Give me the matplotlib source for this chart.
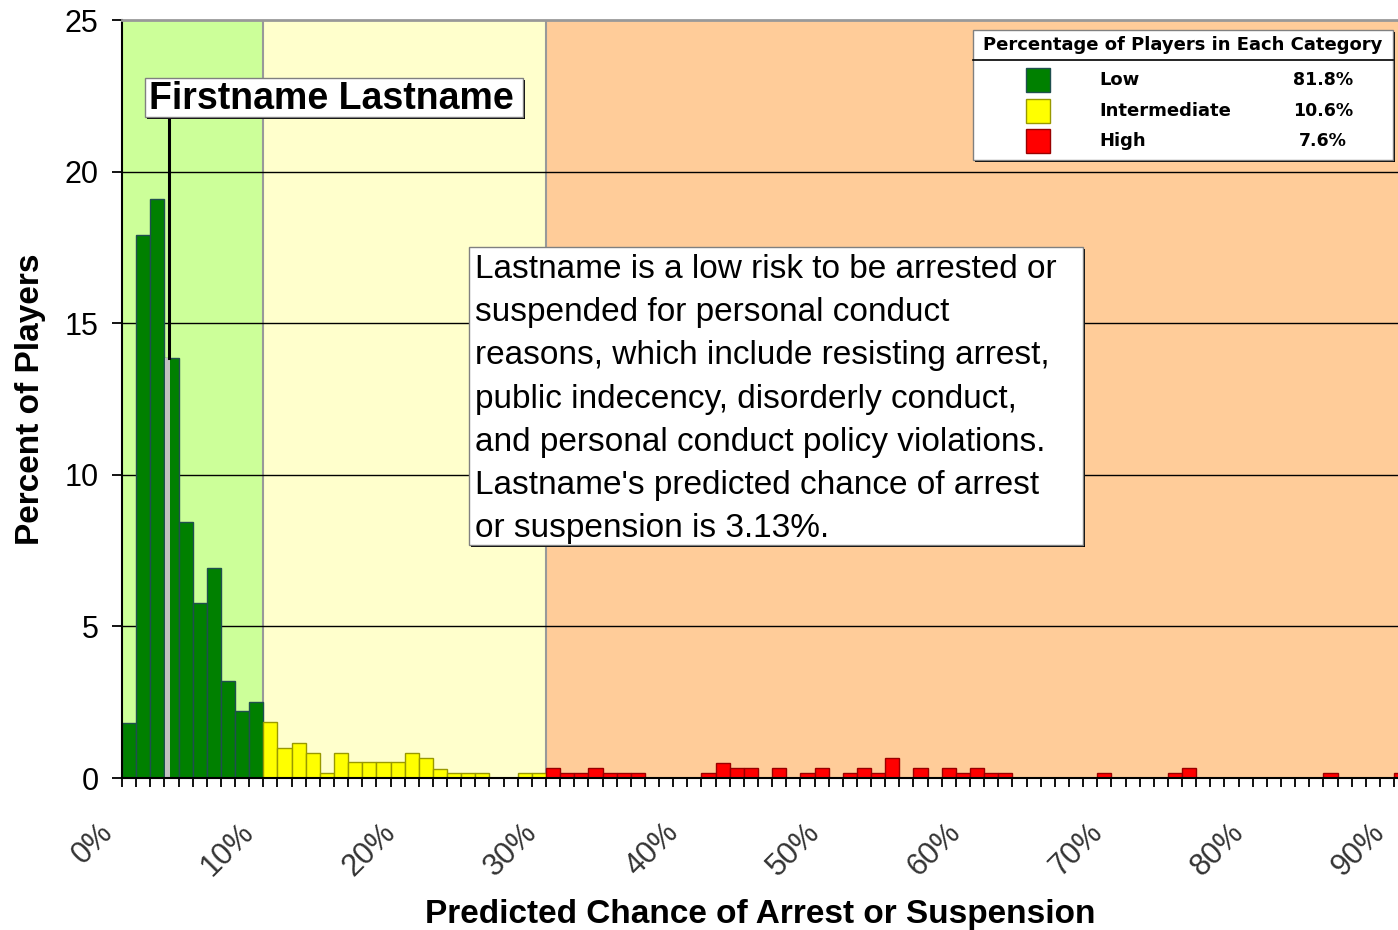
import numpy as np
import matplotlib
matplotlib.use("Agg")
import matplotlib.pyplot as plt
from matplotlib.patches import Rectangle
from matplotlib.lines import Line2D
from matplotlib.transforms import Affine2D, ScaledTranslation
from matplotlib import patheffects

# percent of players in each 1% bin of predicted chance
low_start = 0
low_pct = [1.83, 17.92, 19.10, 13.84, 8.44, 5.76, 6.92, 3.21, 2.21, 2.52]
mid_start = 10
mid_pct = [1.85, 0.99, 1.15, 0.84, 0.15, 0.84, 0.52, 0.52, 0.52, 0.52,
           0.84, 0.67, 0.31, 0.15, 0.15, 0.15, 0, 0, 0.15, 0.15]
high_start = 30
high_pct = [0.33, 0.15, 0.15, 0.33, 0.15, 0.15, 0.15, 0, 0, 0,
            0, 0.15, 0.50, 0.33, 0.33, 0, 0.33, 0, 0.15, 0.33,
            0, 0.15, 0.33, 0.15, 0.67, 0, 0.33, 0, 0.33, 0.15,
            0.33, 0.15, 0.15, 0, 0, 0, 0, 0, 0, 0.15,
            0, 0, 0, 0, 0.15, 0.33, 0, 0, 0, 0,
            0, 0, 0, 0, 0, 0.15, 0, 0, 0, 0,
            0.15]

player_name = "Firstname Lastname"
player_pct = 3.13
note = ("Lastname is a low risk to be arrested or\n"
        "suspended for personal conduct\n"
        "reasons, which include resisting arrest,\n"
        "public indecency, disorderly conduct,\n"
        "and personal conduct policy violations.\n"
        "Lastname's predicted chance of arrest\n"
        "or suspension is 3.13%.")

cat_names = ["Low", "Intermediate", "High"]
cat_share = ["81.8%", "10.6%", "7.6%"]
cat_colors = ["#008000", "#FFFF00", "#FF0000"]
cat_edges = ["#1F4F4F", "#999900", "#990000"]
cat_bg = ["#CCFF99", "#FFFFCC", "#FFCC99"]
cat_edges_x = [0, 10, 30, 100]

x_ticks = list(range(0, 91, 10))
x_ticklabels = [f"{v}%" for v in x_ticks]
y_ticks = [0, 5, 10, 15, 20, 25]

plt.rcParams["font.family"] = "Liberation Sans"

W, H = 1398, 930
fig = plt.figure(figsize=(W / 100, H / 100), dpi=100)
ax = fig.add_axes([122 / W, 152 / H, 1276 / W, 758 / H])
px = Affine2D().scale(1, -1).translate(0, H)  # figure pixels, y down

for i in range(3):
    ax.axvspan(cat_edges_x[i], cat_edges_x[i + 1], color=cat_bg[i], lw=0, zorder=0)
for xv in cat_edges_x[1:3]:
    ax.axvline(xv, color="#999999", lw=1.5, zorder=0.3)
for yv in y_ticks[1:-1]:
    ax.axhline(yv, color="black", lw=1, zorder=0.5)

groups = [(low_start, low_pct), (mid_start, mid_pct), (high_start, high_pct)]
for (start, vals), c, e in zip(groups, cat_colors, cat_edges):
    xs = start + np.arange(len(vals))
    ax.bar(xs, vals, width=1, align="edge", color=c, edgecolor=e, lw=1, zorder=2)

# the player's own bin
bin_h = low_pct[int(player_pct)]
ax.bar(player_pct - 0.08, bin_h, width=0.35, align="edge", color="#C0C0C0", lw=0, zorder=2.2)
ax.plot([player_pct + 0.17] * 2, [bin_h, 21.8], color="black", lw=2.2, zorder=4)

ax.set_xlim(0, 90.28)
ax.set_ylim(0, 25)
ax.set_xticks(x_ticks)
ax.set_xticks(range(0, 91), minor=True)
ax.set_xticklabels(x_ticklabels, rotation=45, ha="right", va="top", fontsize=22, color="#333333")
ax.set_yticks(y_ticks)
ax.tick_params(axis="x", which="both", direction="out", length=6.5, width=1.3, pad=22)
ax.tick_params(axis="y", direction="out", length=7, width=1.3, pad=10, labelsize=22)
for lbl in ax.get_xticklabels():
    lbl.set_transform(lbl.get_transform() + ScaledTranslation(-3 / 100, 0, fig.dpi_scale_trans))

ax.spines["right"].set_visible(False)
ax.spines["top"].set_color("#999999")
ax.spines["top"].set_linewidth(2)
ax.spines["left"].set_linewidth(1.5)
ax.spines["bottom"].set_linewidth(1.5)

ax.set_xlabel("Predicted Chance of Arrest or Suspension", fontsize=24, fontweight="bold", va="top")
ax.xaxis.set_label_coords(0.5, -(899 - 778) / 758)
ax.set_ylabel("Percent of Players", fontsize=24, fontweight="bold")
ax.yaxis.set_label_coords((46 - 122) / 1276, 0.5)

shadow = [patheffects.SimplePatchShadow(offset=(1.5, -1.5), shadow_rgbFace="black", alpha=1), patheffects.Normal()]

# name label
fig.add_artist(Rectangle((145, 78), 378, 39, transform=px, facecolor="white", edgecolor="#808080",
                         lw=1, zorder=5, path_effects=shadow))
fig.text(149, 99, player_name, transform=px, ha="left", va="center", fontsize=27, fontweight="bold", zorder=6)

# explanation box
fig.add_artist(Rectangle((469, 247), 614, 298, transform=px, facecolor="white", edgecolor="#808080",
                         lw=1, zorder=5, path_effects=shadow))
fig.text(475, 254, note, transform=px, ha="left", va="top", fontsize=24, linespacing=1.51, zorder=6)

# category legend
fig.add_artist(Rectangle((973, 30), 420, 130, transform=px, facecolor="white", edgecolor="#808080",
                         lw=1, zorder=5, path_effects=shadow))
fig.add_artist(Line2D([973, 1393], [60, 60], transform=px, color="black", lw=1.2, zorder=6))
fig.text(1183, 45, "Percentage of Players in Each Category", transform=px, ha="center", va="center",
         fontsize=13, fontweight="bold", family="DejaVu Sans", zorder=6)
for i, (name, share) in enumerate(zip(cat_names, cat_share)):
    yc = 80 + i * 30.5
    fig.add_artist(Rectangle((1026, yc - 12), 24, 24, transform=px, facecolor=cat_colors[i],
                             edgecolor=cat_edges[i], lw=1, zorder=6))
    fig.text(1099, yc, name, transform=px, ha="left", va="center", fontsize=13,
             fontweight="bold", family="DejaVu Sans", zorder=6)
    fig.text(1323, yc, share, transform=px, ha="center", va="center", fontsize=12.5,
             fontweight="bold", family="DejaVu Sans", zorder=6)

fig.savefig("out.png", dpi=100)
